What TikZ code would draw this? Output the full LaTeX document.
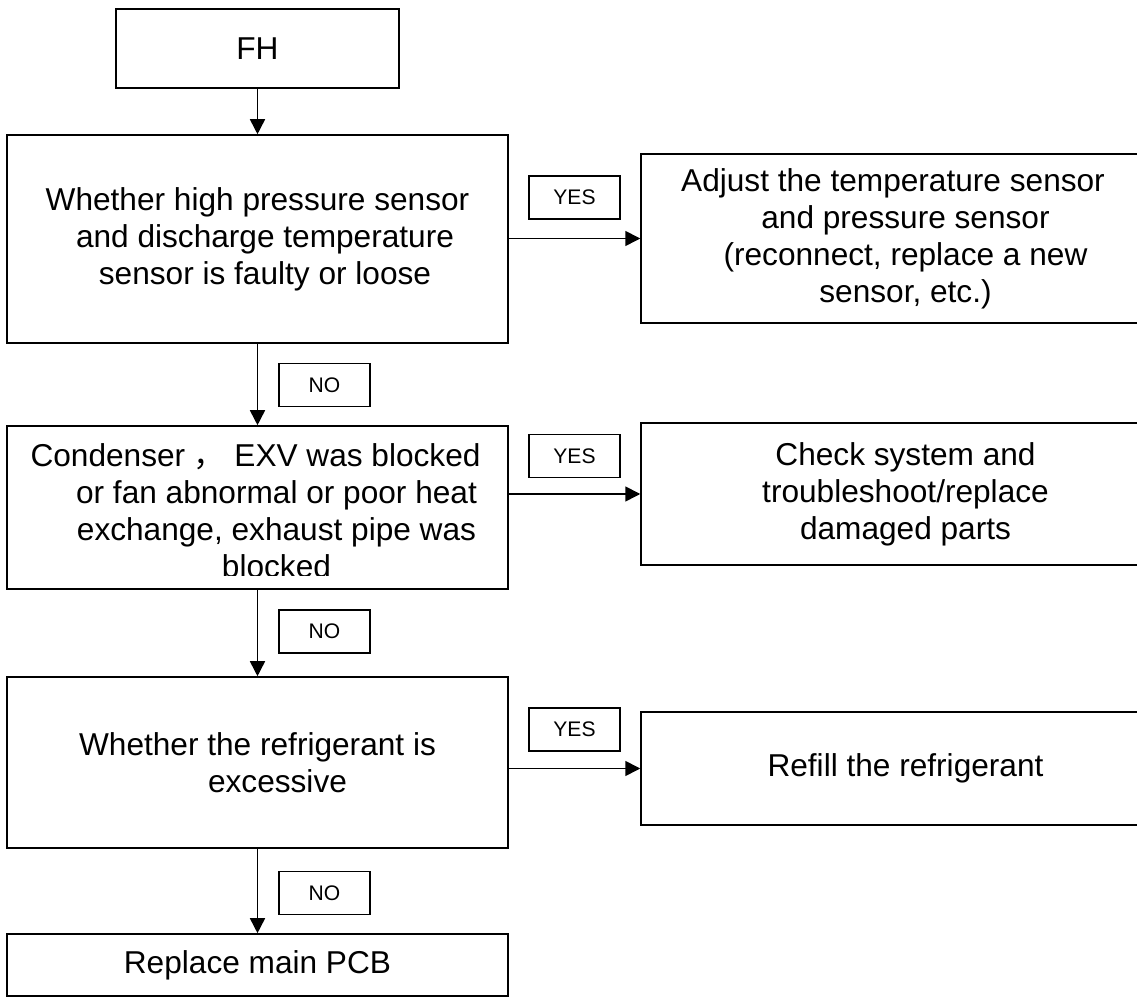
\documentclass[tikz,border=0pt]{standalone}
\usepackage{fontspec}
\setmainfont{Liberation Sans}
\newfontfamily\cjk{Noto Sans CJK SC}
\usepackage{tikz}
\usetikzlibrary{arrows.meta, positioning, calc}

\begin{document}
\begin{tikzpicture}[
    x=0.02cm, y=-0.02cm,
    stepbox/.style={
        rectangle, draw=black, line width=0.9pt,
        inner sep=0pt, align=center,
        font=\fontsize{18}{21}\selectfont
    },
    steptext/.style={
        inner sep=0pt, align=center,
        font=\fontsize{18}{21}\selectfont
    },
    tagbox/.style={
        rectangle, draw=black, line width=0.9pt,
        minimum width=1.82cm, minimum height=0.86cm,
        inner sep=0pt, font=\fontsize{12}{14}\selectfont
    },
    arrow/.style={-{Triangle[length=0.3cm, width=0.3cm]}, line width=0.9pt}
]
\useasboundingbox (0,0) rectangle (1137,999);

% ==============================================================================
% START
% ==============================================================================
\node[stepbox, minimum width=5.66cm, minimum height=1.58cm] (fh) at (257.5,48.5) {FH};

% ==============================================================================
% CHECK 1: SENSORS
% ==============================================================================
\node[stepbox, minimum width=10.02cm, minimum height=4.16cm] (q1) at (257.5,239) {
    Whether high pressure sensor\\
    \hspace*{0.3cm}and discharge temperature\\
    \hspace*{0.3cm}sensor is faulty or loose
};

\node[stepbox, minimum width=10.58cm, minimum height=3.38cm] (a1) at (905.5,238.5) {
    Adjust the temperature sensor\hspace*{0.5cm}\\
    and pressure sensor\\
    (reconnect, replace a new\\
    sensor, etc.)
};

\node[tagbox] (yes1) at (574.5,197.5) {YES};
\node[tagbox] (no1) at (324.5,385) {NO};

\draw[arrow] (fh.south) -- (q1.north);
\draw[arrow] (a1.west -| q1.east) -- (a1.west);

% ==============================================================================
% CHECK 2: CONDENSER, EXV, FAN
% ==============================================================================
\node[stepbox, minimum width=10.02cm, minimum height=3.26cm] (q2) at (257.5,507.5) {};
\begin{scope}
    \clip (q2.north west) rectangle ($(q2.south east)+(0,-14)$);
    \node[steptext, anchor=north] (q2text) at ($(q2.north)+(19,18)$) {
        Condenser {\cjk ，} EXV was blocked\hspace*{0.84cm}\\
        or fan abnormal or poor heat\\
        exchange, exhaust pipe was\\
        blocked
    };
\end{scope}

\node[stepbox, minimum width=10.58cm, minimum height=2.84cm] (a2) at (905.5,494) {
    Check system and\\
    troubleshoot/replace\\
    damaged parts
};

\node[tagbox] (yes2) at (574.5,456) {YES};
\node[tagbox] (no2) at (324.5,631.5) {NO};

\draw[arrow] (q1.south) -- (q2.north);
\draw[arrow] (a2.west -| q2.east) -- (a2.west);

% ==============================================================================
% CHECK 3: REFRIGERANT
% ==============================================================================
\node[stepbox, minimum width=10.02cm, minimum height=3.42cm] (q3) at (257.5,762.5) {
    Whether the refrigerant is\\
    \hspace*{0.8cm}excessive
};

\node[stepbox, minimum width=10.58cm, minimum height=2.26cm] (a3) at (905.5,768.5) {Refill the refrigerant};

\node[tagbox] (yes3) at (574.5,729.5) {YES};
\node[tagbox] (no3) at (324.5,893) {NO};

\draw[arrow] (q2.south) -- (q3.north);
\draw[arrow] (a3.west -| q3.east) -- (a3.west);

% ==============================================================================
% END
% ==============================================================================
\node[stepbox, minimum width=10.02cm, minimum height=1.24cm] (pcb) at (257.5,965) {Replace main PCB};

\draw[arrow] (q3.south) -- (pcb.north);

\end{tikzpicture}
\end{document}
